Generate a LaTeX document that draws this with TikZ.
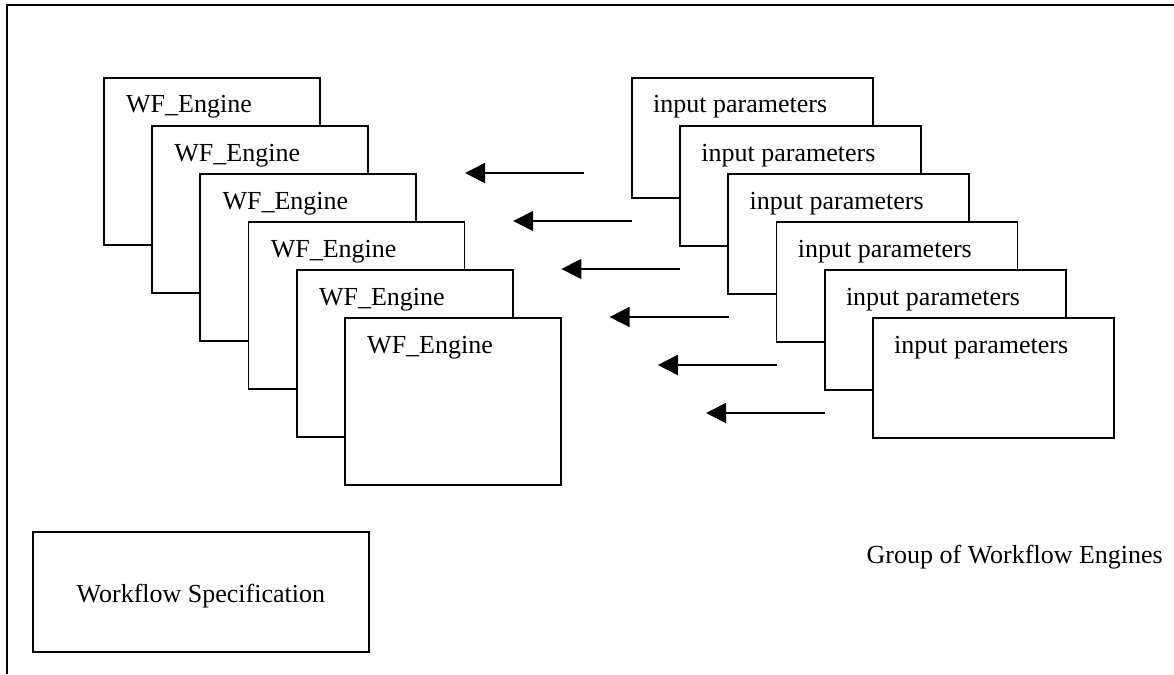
\documentclass[tikz,border=0pt]{standalone}
\usepackage{fontspec}
\setmainfont{Liberation Serif}
\usetikzlibrary{arrows.meta,calc}

\tikzset{
  frameline/.style={line width=1.7pt},
  enginebox/.style={draw, fill=white, line width=1.8pt, rectangle, inner sep=0pt,
    minimum width=216pt, minimum height=167pt, anchor=north west},
  parambox/.style={draw, fill=white, line width=1.8pt, rectangle, inner sep=0pt,
    minimum width=241pt, minimum height=120pt, anchor=north west},
  specbox/.style={draw, line width=1.8pt, rectangle, inner sep=0pt,
    minimum width=336pt, minimum height=120pt, anchor=south west,
    font=\fontsize{26}{30}\selectfont},
  lbl/.style={inner sep=0pt, anchor=base west, font=\fontsize{26}{30}\selectfont},
  feed/.style={line width=1.6pt, -{Triangle[length=20pt,width=20pt]}}
}

\begin{document}
\begin{tikzpicture}[x=1pt,y=-1pt]
  \useasboundingbox (0,0) rectangle (1174,674);

  % outer frame (top and left edges)
  \coordinate (fr-tr) at (1174,5);
  \coordinate (fr-tl) at (7,5);
  \coordinate (fr-bl) at (7,674);
  \draw[frameline] (fr-tr) -- (fr-tl) -- (fr-bl);

  % stack of workflow engines
  \foreach \k in {0,...,5} {
    \node[enginebox] (wf\k) at ({103+48.2*\k},{77+48*\k}) {};
    \node[lbl] (wfl\k) at ($(wf\k.north west)+(23,36)$) {WF\_Engine};
  }

  % stack of input parameter sets
  \foreach \k in {0,...,5} {
    \node[parambox] (ip\k) at ({631+48.2*\k},{77+48*\k}) {};
    \node[lbl] (ipl\k) at ($(ip\k.north west)+(22,36)$) {input parameters};
  }

  % parameters handed to the engines
  \foreach \k in {0,...,5} {
    \coordinate (as\k) at ({584+48.2*\k},{173+48*\k});
    \coordinate (ae\k) at ({465+48.2*\k},{173+48*\k});
    \draw[feed] (as\k) -- (ae\k);
  }

  % workflow specification
  \node[specbox] (spec) at (32,653) {};
  \node[inner sep=0pt, anchor=base, font=\fontsize{26}{30}\selectfont]
    (specl) at ($(spec.south)+(0,-51)$) {Workflow Specification};

  % caption of the group
  \node[inner sep=0pt, anchor=base east, font=\fontsize{26}{30}\selectfont]
    (grp) at (1163,563) {Group of Workflow Engines};
\end{tikzpicture}
\end{document}
